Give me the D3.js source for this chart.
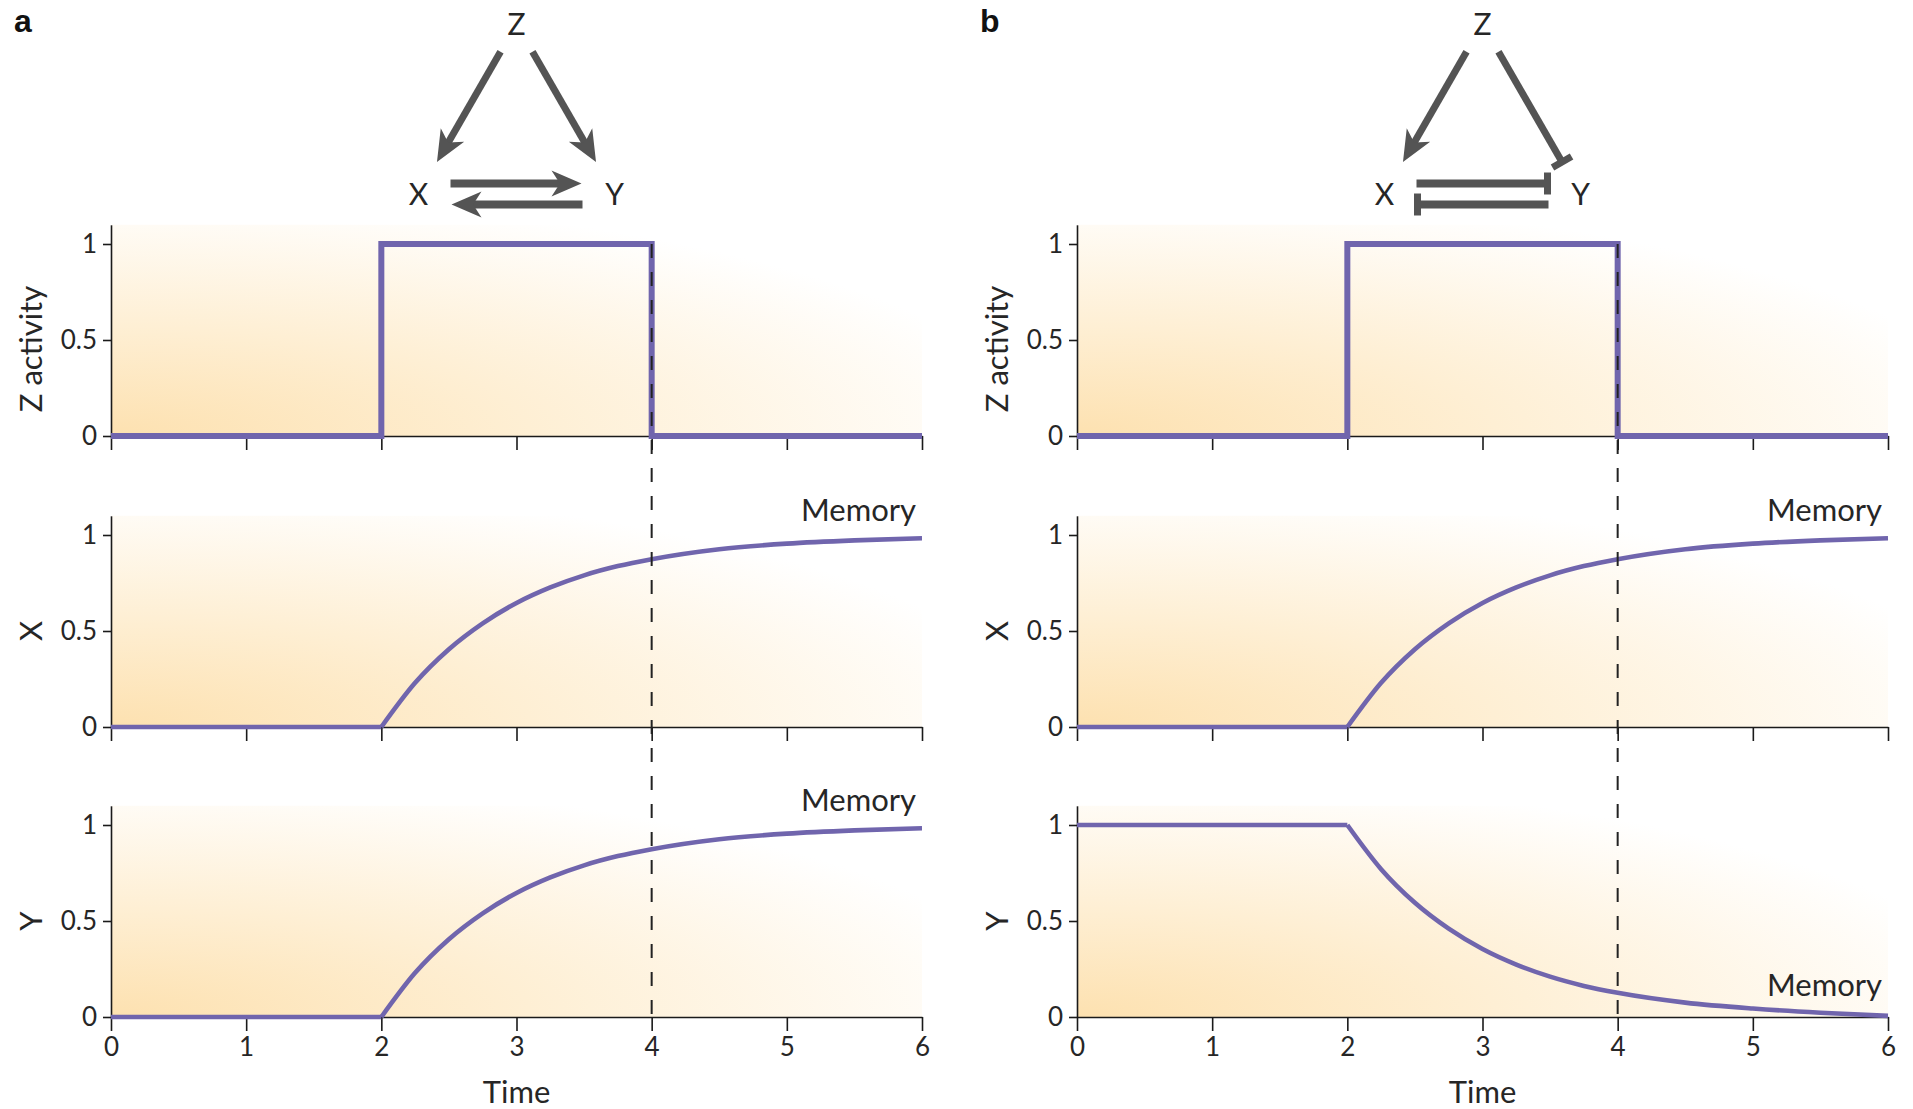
<!DOCTYPE html>
<html>
<head>
<meta charset="utf-8">
<script src="https://cdn.jsdelivr.net/npm/d3@7"></script>
<style>
    body { margin: 0; background: #fff; }
    svg text { font-family: Lato, "Liberation Sans", sans-serif; fill: #262626; }
</style>
</head>
<body>
<svg id="chart" width="1913" height="1109"></svg>
<script>
// values
const timeTicks = [0, 1, 2, 3, 4, 5, 6];
const levelTicks = [0, 0.5, 1];
const stepTime = [0, 2, 4, 6];
const zActivity = [0, 1, 0, 0];
const curveTime = [0, 1, 2, 2.25, 2.5, 2.75, 3, 3.25, 3.5, 3.75, 4, 4.5, 5, 5.5, 6];
const xRise = [0, 0, 0, 0.23, 0.405, 0.54, 0.646, 0.727, 0.79, 0.838, 0.874, 0.926, 0.955, 0.972, 0.983];
const yDecay = [1, 1, 1, 0.77, 0.595, 0.46, 0.354, 0.273, 0.21, 0.162, 0.126, 0.075, 0.044, 0.022, 0.006];
const memoryTime = 4;
const panelLetters = ["a", "b"];
const rowTitles = ["Z activity", "X", "Y"];

const nodes = [
    {id: "Z", u: 0, v: 0},
    {id: "X", u: -1, v: 1},
    {id: "Y", u: 1, v: 1}
];
const edgesA = [
    {from: "Z", to: "X", type: "act", lane: 0},
    {from: "Z", to: "Y", type: "act", lane: 0},
    {from: "X", to: "Y", type: "act", lane: -1},
    {from: "Y", to: "X", type: "act", lane: 1}
];
const edgesB = [
    {from: "Z", to: "X", type: "act", lane: 0},
    {from: "Z", to: "Y", type: "inh", lane: 0},
    {from: "X", to: "Y", type: "inh", lane: -1},
    {from: "Y", to: "X", type: "inh", lane: 1}
];

// panel a: Y follows X, panel b: Y is pushed down
const panels = [
    {letter: panelLetters[0], left: 111, series: [zActivity, xRise, xRise], edges: edgesA, memory: [1, 1]},
    {letter: panelLetters[1], left: 1077, series: [zActivity, xRise, yDecay], edges: edgesB, memory: [1, 0]}
];

const svg = d3.select("#chart");
const purple = "#7065ad";
const grey = "#545454";
const rowBase = [436, 727, 1017];
const plotW = 811;
const unitH = 192;

let defs = svg.append("defs");
let grad = defs.append("radialGradient")
    .attr("id", "bg")
    .attr("cx", 0).attr("cy", 1).attr("r", 1.15)
    .attr("fx", 0).attr("fy", 1);
grad.append("stop").attr("offset", 0).attr("stop-color", "#fde1b0");
grad.append("stop").attr("offset", 0.45).attr("stop-color", "#feefd4");
grad.append("stop").attr("offset", 1).attr("stop-color", "#ffffff");

function drawPanel(p) {
    const scX = d3.scaleLinear().domain([0, 6]).range([p.left, p.left + plotW]);
    const scYs = rowBase.map(b => d3.scaleLinear().domain([0, 1.1]).range([b, b - unitH * 1.1]));

    // panel letter
    svg.append("text")
        .attr("x", p.left - 97)
        .attr("y", 32)
        .style("font-family", "'Liberation Sans', sans-serif")
        .style("font-weight", "bold")
        .style("font-size", "32px")
        .style("fill", "#111")
        .text(p.letter);

    rowBase.forEach((b, r) => {
        const scY = scYs[r];
        svg.append("rect")
            .attr("x", scX(0))
            .attr("y", scY(1.1))
            .attr("width", scX(6) - scX(0))
            .attr("height", scY(0) - scY(1.1))
            .attr("fill", "url(#bg)");

        let axisX = d3.axisBottom(scX)
            .tickValues(timeTicks)
            .tickSize(14)
            .tickSizeOuter(0)
            .tickPadding(7)
            .tickFormat(r === 2 ? d3.format("d") : () => "");
        let gx = svg.append("g")
            .attr("transform", `translate(0, ${scY(0)})`)
            .call(axisX);
        gx.selectAll("path, line").attr("stroke", "#1a1a1a").attr("stroke-width", 1.6);
        gx.selectAll("text").style("font-size", "26px").attr("fill", "#262626");

        let axisY = d3.axisLeft(scY)
            .tickValues(levelTicks)
            .tickSize(8)
            .tickSizeOuter(0)
            .tickPadding(6)
            .tickFormat(d => d);
        let gy = svg.append("g")
            .attr("transform", `translate(${scX(0)}, 0)`)
            .call(axisY);
        gy.selectAll("path, line").attr("stroke", "#1a1a1a").attr("stroke-width", 1.6);
        gy.selectAll("text").style("font-size", "26px").attr("fill", "#262626");

        svg.append("text")
            .attr("transform", `translate(${scX(0) - 69}, ${scY(0.5) + (r === 0 ? 9 : 0)}) rotate(-90)`)
            .attr("text-anchor", "middle")
            .style("font-size", "31px")
            .text(rowTitles[r]);
    });

    // Z activity step
    const zPts = stepTime.map((t, i) => [t, p.series[0][i]]);
    svg.append("path")
        .datum(zPts)
        .attr("fill", "none")
        .attr("stroke", purple)
        .attr("stroke-width", 6)
        .attr("d", d3.line().x(d => scX(d[0])).y(d => scYs[0](d[1])).curve(d3.curveStepAfter));

    // X and Y responses: flat part, then smooth part from t = 2
    [1, 2].forEach(r => {
        const pts = curveTime.map((t, i) => [t, p.series[r][i]]);
        const flat = pts.filter(d => d[0] <= 2);
        const move = pts.filter(d => d[0] >= 2);
        svg.append("path")
            .datum(flat)
            .attr("fill", "none")
            .attr("stroke", purple)
            .attr("stroke-width", 4.6)
            .attr("d", d3.line().x(d => scX(d[0])).y(d => scYs[r](d[1])));
        svg.append("path")
            .datum(move)
            .attr("fill", "none")
            .attr("stroke", purple)
            .attr("stroke-width", 4.6)
            .attr("d", d3.line().x(d => scX(d[0])).y(d => scYs[r](d[1])).curve(d3.curveMonotoneX));
    });

    // time when Z switches off
    svg.append("line")
        .attr("x1", scX(memoryTime)).attr("x2", scX(memoryTime))
        .attr("y1", scYs[0](1)).attr("y2", scYs[2](0))
        .attr("stroke", "#222")
        .attr("stroke-width", 2)
        .attr("stroke-dasharray", "14,14");

    // Memory labels
    p.memory.forEach((lvl, i) => {
        const scY = scYs[i + 1];
        svg.append("text")
            .attr("x", scX(6) - 6)
            .attr("y", lvl === 1 ? scY(1) - 14 : scY(0) - 21)
            .attr("text-anchor", "end")
            .style("font-size", "31px")
            .text("Memory");
    });

    svg.append("text")
        .attr("x", scX(3))
        .attr("y", 1103)
        .attr("text-anchor", "middle")
        .style("font-size", "31px")
        .text("Time");

    drawNetwork(p, scX(3));
}

function drawNetwork(p, cx) {
    const scU = d3.scaleLinear().domain([-1, 1]).range([cx - 98, cx + 98]);
    const scV = d3.scaleLinear().domain([0, 1]).range([24, 194]);
    const pos = {};
    nodes.forEach(n => { pos[n.id] = [scU(n.u), scV(n.v)]; });

    let g = svg.append("g");
    nodes.forEach(n => {
        g.append("text")
            .attr("x", pos[n.id][0])
            .attr("y", pos[n.id][1])
            .attr("dy", "0.36em")
            .attr("text-anchor", "middle")
            .style("font-size", "30px")
            .text(n.id);
    });

    p.edges.forEach(e => {
        let [x1, y1] = pos[e.from];
        let [x2, y2] = pos[e.to];
        if (e.lane !== 0) { y1 += e.lane * 10.5; y2 += e.lane * 10.5; }
        const len = Math.hypot(x2 - x1, y2 - y1);
        const ux = (x2 - x1) / len, uy = (y2 - y1) / len;
        const horiz = e.lane !== 0;
        const trimS = 32, trimE = horiz ? 33 : 37;
        const sx = x1 + ux * trimS, sy = y1 + uy * trimS;
        const ex = x2 - ux * trimE, ey = y2 - uy * trimE;
        const shaft = horiz ? 8 : 7;
        const ang = Math.atan2(uy, ux) * 180 / Math.PI;

        if (e.type === "act") {
            const headL = horiz ? 30 : 31;
            const headW = horiz ? 26 : 27;
            g.append("line")
                .attr("x1", sx).attr("y1", sy)
                .attr("x2", ex - ux * headL * 0.7).attr("y2", ey - uy * headL * 0.7)
                .attr("stroke", grey)
                .attr("stroke-width", shaft);
            g.append("path")
                .attr("d", `M0,0 L${-headL},${-headW / 2} L${-headL * 0.72},0 L${-headL},${headW / 2} Z`)
                .attr("transform", `translate(${ex},${ey}) rotate(${ang})`)
                .attr("fill", grey);
        } else {
            g.append("line")
                .attr("x1", sx).attr("y1", sy)
                .attr("x2", ex).attr("y2", ey)
                .attr("stroke", grey)
                .attr("stroke-width", shaft);
            g.append("line")
                .attr("x1", 0).attr("y1", -11)
                .attr("x2", 0).attr("y2", 11)
                .attr("transform", `translate(${ex},${ey}) rotate(${ang})`)
                .attr("stroke", grey)
                .attr("stroke-width", 7);
        }
    });
}

panels.forEach(drawPanel);
</script>
</body>
</html>
